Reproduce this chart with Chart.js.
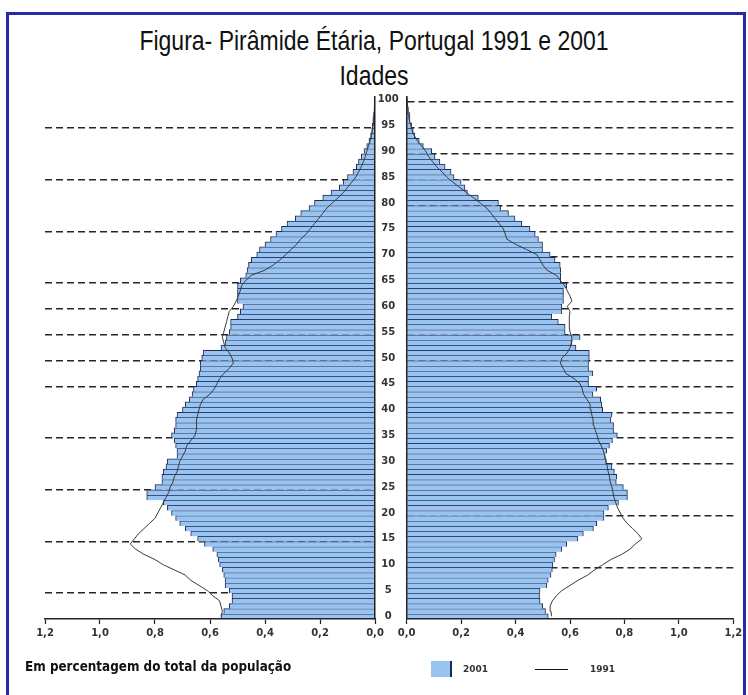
<!DOCTYPE html>
<html>
<head>
<meta charset="utf-8">
<script src="https://cdn.jsdelivr.net/npm/chart.js@4.4.0/dist/chart.umd.min.js"></script>
<style>
  body { margin: 0; background: #fff; }
  #wrap { position: relative; width: 748px; height: 695px; overflow: hidden; background: #fff; }
  #frame { position: absolute; left: 6px; top: 12px; width: 740px; height: 700px; border: 3px solid #2a2aa6; box-sizing: border-box; }
  canvas { position: absolute; left: 0; top: 0; }
  .big { position: absolute; left: 0; width: 748px; text-align: center; font-family: "Liberation Sans", Arial, sans-serif; font-size: 23px; color: #111; transform: scaleY(1.2); line-height: 1; }
  .note { position: absolute; left: 25px; top: 660px; font-family: "DejaVu Sans", Verdana, sans-serif; font-weight: bold; font-size: 12px; color: #111; transform: scaleY(1.1); }
  .leg { position: absolute; font-family: "DejaVu Sans", Verdana, sans-serif; font-weight: bold; font-size: 9px; color: #333; }
</style>
</head>
<body>
<div id="wrap">
  <div id="frame"></div>
  <div class="big" style="top:29px">Figura- Pirâmide Étária, Portugal 1991 e 2001</div>
  <div class="big" style="top:64px">Idades</div>
  <canvas id="left" width="748" height="695"></canvas>
  <canvas id="right" width="748" height="695"></canvas>
  <div class="note">Em percentagem do total da população</div>
  <div style="position:absolute;left:431px;top:661px;width:19px;height:16px;background:#99c3f0;border-right:2px solid #1c2b55"></div>
  <div class="leg" style="left:463px;top:664px">2001</div>
  <div style="position:absolute;left:535px;top:669px;width:33px;height:1px;background:#111"></div>
  <div class="leg" style="left:590px;top:664px">1991</div>
</div>
<script>
// idades 0..100
const ages = Array.from({ length: 101 }, (_, i) => i);
const ageTicks = [0, 5, 10, 15, 20, 25, 30, 35, 40, 45, 50, 55, 60, 65, 70, 75, 80, 85, 90, 95, 100];
const xTicks = [0, 0.2, 0.4, 0.6, 0.8, 1.0, 1.2];

// lado esquerdo (% do total), idade 0 -> 100
const left2001 = [
  0.56, 0.55, 0.53, 0.52, 0.52, 0.53, 0.545, 0.545, 0.55, 0.555,
  0.565, 0.57, 0.575, 0.59, 0.62, 0.645, 0.67, 0.69, 0.71, 0.725,
  0.74, 0.755, 0.77, 0.83, 0.83, 0.80, 0.775, 0.775, 0.77, 0.76,
  0.755, 0.72, 0.72, 0.725, 0.73, 0.74, 0.73, 0.725, 0.725, 0.72,
  0.70, 0.69, 0.675, 0.665, 0.66, 0.65, 0.645, 0.64, 0.635, 0.635,
  0.63, 0.625, 0.56, 0.545, 0.54, 0.53, 0.525, 0.525, 0.50, 0.49,
  0.48, 0.50, 0.50, 0.50, 0.50, 0.49, 0.47, 0.465, 0.46, 0.45,
  0.43, 0.42, 0.40, 0.38, 0.36, 0.34, 0.32, 0.29, 0.27, 0.24,
  0.22, 0.19, 0.16, 0.13, 0.115, 0.10, 0.08, 0.068, 0.06, 0.05,
  0.04, 0.03, 0.022, 0.016, 0.012, 0.01, 0.008, 0.006, 0.004, 0.003,
  0.003
];
const left1991 = [
  0.56, 0.555, 0.56, 0.565, 0.59, 0.61, 0.64, 0.67, 0.69, 0.73,
  0.77, 0.80, 0.84, 0.87, 0.89, 0.875, 0.86, 0.84, 0.82, 0.80,
  0.79, 0.78, 0.77, 0.76, 0.75, 0.745, 0.735, 0.73, 0.72, 0.715,
  0.71, 0.70, 0.69, 0.685, 0.67, 0.655, 0.65, 0.65, 0.648, 0.645,
  0.64, 0.635, 0.625, 0.60, 0.585, 0.575, 0.565, 0.55, 0.53, 0.515,
  0.52, 0.53, 0.545, 0.55, 0.555, 0.55, 0.545, 0.54, 0.535, 0.53,
  0.515, 0.505, 0.497, 0.49, 0.485, 0.47, 0.45, 0.40, 0.37, 0.345,
  0.325, 0.305, 0.285, 0.27, 0.25, 0.235, 0.22, 0.205, 0.19, 0.175,
  0.155, 0.135, 0.115, 0.10, 0.085, 0.07, 0.06, 0.05, 0.042, 0.035,
  0.03, 0.024, 0.018, 0.013, 0.01, 0.007, 0.005, 0.003, 0.002, 0.001,
  0.001
];
// lado direito
const right2001 = [
  0.52, 0.51, 0.50, 0.49, 0.488, 0.49, 0.515, 0.52, 0.53, 0.535,
  0.537, 0.543, 0.549, 0.57, 0.588, 0.629, 0.649, 0.686, 0.698, 0.725,
  0.725, 0.741, 0.778, 0.811, 0.811, 0.796, 0.77, 0.772, 0.763, 0.754,
  0.733, 0.729, 0.735, 0.745, 0.756, 0.774, 0.76, 0.76, 0.75, 0.754,
  0.72, 0.717, 0.713, 0.684, 0.698, 0.668, 0.668, 0.684, 0.668, 0.668,
  0.671, 0.671, 0.622, 0.607, 0.637, 0.582, 0.582, 0.557, 0.533, 0.57,
  0.57, 0.576, 0.576, 0.576, 0.588, 0.566, 0.566, 0.566, 0.564, 0.545,
  0.527, 0.499, 0.499, 0.484, 0.472, 0.453, 0.423, 0.398, 0.374, 0.345,
  0.337, 0.263, 0.223, 0.214, 0.20, 0.174, 0.163, 0.141, 0.122, 0.104,
  0.092, 0.061, 0.046, 0.03, 0.024, 0.018, 0.012, 0.012, 0.006, 0.004,
  0.004
];
const right1991 = [
  0.533, 0.53, 0.527, 0.535, 0.55, 0.57, 0.60, 0.63, 0.665, 0.69,
  0.72, 0.75, 0.79, 0.82, 0.84, 0.864, 0.85, 0.83, 0.81, 0.795,
  0.785, 0.775, 0.768, 0.762, 0.758, 0.754, 0.748, 0.745, 0.74, 0.737,
  0.733, 0.728, 0.723, 0.715, 0.705, 0.70, 0.693, 0.687, 0.685, 0.68,
  0.677, 0.674, 0.662, 0.65, 0.645, 0.637, 0.615, 0.585, 0.575, 0.565,
  0.57, 0.59, 0.60, 0.605, 0.607, 0.60, 0.597, 0.597, 0.598, 0.60,
  0.59, 0.607, 0.60, 0.59, 0.58, 0.565, 0.55, 0.515, 0.50, 0.49,
  0.478, 0.44, 0.40, 0.368, 0.362, 0.355, 0.34, 0.325, 0.31, 0.294,
  0.27, 0.245, 0.22, 0.195, 0.17, 0.147, 0.13, 0.11, 0.095, 0.08,
  0.07, 0.055, 0.04, 0.028, 0.02, 0.015, 0.01, 0.007, 0.005, 0.003,
  0.002
];
// linhas tracejadas (limite abaixo destas idades)
const leftDashAges = [5, 15, 25, 35, 45, 50, 55, 60, 65, 75, 85, 95];
const rightDashAges = [10, 20, 30, 35, 40, 45, 50, 55, 60, 65, 70, 75, 80, 85, 90, 95, 100];

const barBlue = '#99c3f0';
const barEdge = '#1c2b55';
const tickFont = { family: 'DejaVu Sans', weight: 'bold', size: 10 };

function makeSide(id, bars, line, reversed, dashAges, pad) {
  return new Chart(document.getElementById(id), {
    type: 'bar',
    data: {
      labels: ages,
      datasets: [
        {
          type: 'line', label: '1991', data: line, indexAxis: 'y',
          borderColor: '#3a3a3a', borderWidth: 1, pointRadius: 0, fill: false, order: 0
        },
        {
          type: 'bar', label: '2001', data: bars,
          backgroundColor: barBlue, borderColor: barEdge,
          borderWidth: { top: 1, bottom: 0, left: 1, right: 1 }, borderSkipped: 'start',
          barPercentage: 1, categoryPercentage: 1, order: 1
        }
      ]
    },
    options: {
      indexAxis: 'y',
      responsive: false,
      animation: false,
      layout: { padding: pad },
      plugins: { legend: { display: false }, tooltip: { enabled: false } },
      scales: {
        x: {
          reverse: reversed, min: 0, max: 1.2,
          afterBuildTicks: s => { s.ticks = xTicks.map(v => ({ value: v })); },
          ticks: { callback: v => v.toFixed(1).replace('.', ','), font: tickFont, color: '#333', padding: 3, maxRotation: 0 },
          grid: { drawOnChartArea: false, tickLength: 5, color: '#222', tickWidth: 1.2 },
          border: { color: '#222', width: 1.5, z: 1 },
          afterFit: s => { s.height = 76; }
        },
        y: {
          reverse: true,
          position: reversed ? 'right' : 'left',
          offset: true,
          ticks: {
            display: !reversed, autoSkip: false, font: tickFont, color: '#333',
            crossAlign: 'center', padding: 8,
            callback: (v, i) => ageTicks.includes(ages[i]) ? String(ages[i]) : ''
          },
          grid: {
            offset: true, drawTicks: false, lineWidth: 1.5,
            color: ctx => dashAges.includes(ctx.index) ? '#262626' : 'rgba(0,0,0,0)'
          },
          border: { color: '#222', width: 1.5, dash: [7, 4], z: 1 },
          afterFit: s => { s.width = reversed ? 0 : 30; }
        }
      }
    }
  });
}

makeSide('left', left2001, left1991, true, leftDashAges, { left: 45, right: 373, top: 97, bottom: 0 });
makeSide('right', right2001, right1991, false, rightDashAges, { left: 376.7, right: 14.7, top: 97, bottom: 0 });
</script>
</body>
</html>
